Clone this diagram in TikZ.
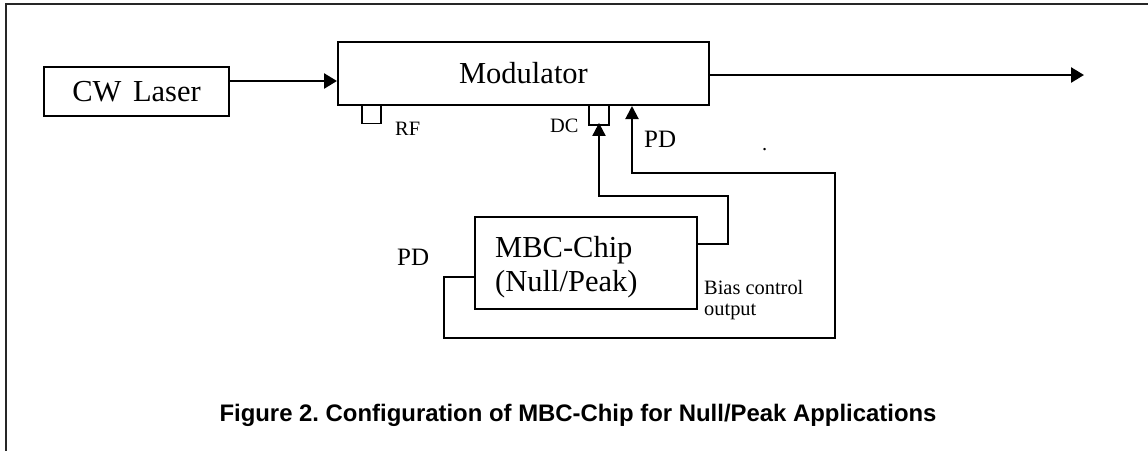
\documentclass[tikz,border=0pt]{standalone}
\usepackage{fontspec}
\setmainfont{Liberation Serif}
\newfontfamily\capfont{Liberation Sans}
\usetikzlibrary{arrows.meta}
\frenchspacing
\tikzset{
  box/.style={draw, line width=2pt, inner sep=0pt},
  port/.style={draw, line width=1.8pt, inner sep=0pt, minimum width=19pt, minimum height=19pt},
  bigtxt/.style={inner sep=0pt, font=\fontsize{30.5}{34}\selectfont},
  midtxt/.style={inner sep=0pt, font=\fontsize{25}{28}\selectfont},
  smalltxt/.style={inner sep=0pt, font=\fontsize{20.4}{21}\selectfont},
  mainarrow/.style={line width=2.6pt, -{Triangle[length=13pt,width=15pt]}},
  fbarrow/.style={line width=2pt, -{Triangle[length=13pt,width=13pt]}},
  frameline/.style={line width=1.6pt, black!85}
}
\begin{document}
\begin{tikzpicture}[x=1pt,y=-1pt]
\useasboundingbox (0,0) rectangle (1148,451);
% frame
\coordinate (ftr) at (1148,4);
\coordinate (ftl) at (6,4);
\coordinate (fbl) at (6,451);
\draw[frameline] (ftr) -- (ftl) -- (fbl);

% main boxes
\node[box, bigtxt, minimum width=185pt, minimum height=49pt] (laser) at (136.5,91.5) {CW\hspace{4pt} Laser};
\node[box, bigtxt, minimum width=371pt, minimum height=63pt] (mod) at (523.5,73.5) {Modulator};
\node[box, minimum width=222pt, minimum height=92pt] (mbc) at (586,263) {};
\node[bigtxt, anchor=base west] (mbcA) at (495,257) {MBC-Chip};
\node[bigtxt, anchor=base west] (mbcB) at (495,291) {(Null/Peak)};

% ports
\node[port] (rf) at (371.5,114) {};
\node[port, minimum width=20pt, minimum height=20pt] (dc) at (599,115) {};

% labels
\node[smalltxt, anchor=base west] (rflbl) at (395,135) {RF};
\node[smalltxt, anchor=base west] (dclbl) at (550,132) {DC};
\node[midtxt, anchor=base west] (pdR) at (644,147) {PD};
\node[midtxt, anchor=base west] (pdL) at (397,265) {PD};
\node[smalltxt, anchor=base west] (dot) at (762,150) {.};
\node[smalltxt, anchor=base west] (bias1) at (704,294) {Bias control};
\node[smalltxt, anchor=base west] (bias2) at (704,315) {output};

% caption
\node[inner sep=0pt, anchor=base, font=\capfont\bfseries\fontsize{23.9}{28}\selectfont] (caption) at (578,421)
  {Figure 2. Configuration of MBC-Chip for Null/Peak Applications};

% main optical path
\draw[mainarrow] (laser.east |- 0,81) -- (mod.west |- 0,81);
\coordinate (out) at (1084,75);
\draw[mainarrow] (mod.east |- 0,75) -- (out);

% bias control output -> DC
\draw[fbarrow, shorten >=-3pt] (mbc.east |- 0,244) -- (728,244) -- (728,196) -- (599,196) -- (dc.south);

% PD feedback -> MBC
\draw[fbarrow] (mbc.west |- 0,277) -- (444,277) -- (444,338) -- (835,338) -- (835,173) -- (632,173) -- (mod.south -| 632,0);
\end{tikzpicture}
\end{document}
